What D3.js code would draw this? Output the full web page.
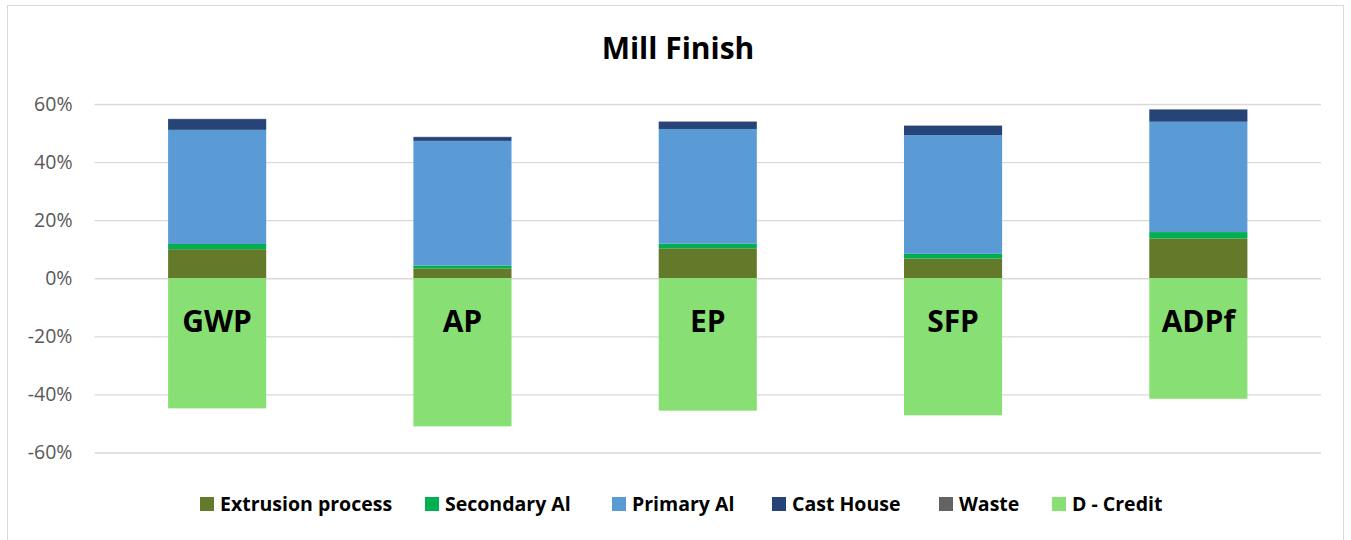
<!DOCTYPE html>
<html>
<head>
<meta charset="utf-8">
<script src="https://cdn.jsdelivr.net/npm/d3@7"></script>
<style>
  body { margin: 0; background: #fff; }
  svg { font-family: "Open Sans", Lato, sans-serif; }
</style>
</head>
<body>
<div id="chart"></div>
<script>
// data (percent)
var categories = ["GWP", "AP", "EP", "SFP", "ADPf"];
var seriesNames = ["Extrusion process", "Secondary Al", "Primary Al", "Cast House", "Waste", "D - Credit"];
var seriesColors = ["#637a2b", "#00b050", "#5b9bd5", "#264478", "#636363", "#88e074"];
var extrusion = [10.0, 3.4, 10.3, 6.8, 13.7];
var secondary = [1.8, 1.0, 1.6, 1.6, 2.2];
var primary   = [39.3, 42.9, 39.5, 40.9, 38.0];
var castHouse = [3.7, 1.3, 2.5, 3.2, 4.2];
var waste     = [0.1, 0.1, 0.1, 0.1, 0.1];
var credit    = [-44.8, -51.0, -45.6, -47.2, -41.5];
var yTicks = [-60, -40, -20, 0, 20, 40, 60];

var W = 1351, H = 540;
var margin = {top: 104, right: 30, bottom: 87, left: 94.5};

var svg = d3.select("#chart").append("svg")
    .attr("width", W)
    .attr("height", H);

// chart frame
svg.append("rect")
    .attr("x", 7.5).attr("y", 5.5)
    .attr("width", 1336).attr("height", 540)
    .attr("fill", "none")
    .attr("stroke", "#d9d9d9");

var x = d3.scaleBand()
    .domain(categories)
    .range([margin.left, W - margin.right])
    .padding(0);

var y = d3.scaleLinear()
    .domain([-60, 60])
    .range([H - margin.bottom - 0.5, margin.top]);

// gridlines + labels
var yaxis = d3.axisLeft(y)
    .tickValues(yTicks)
    .tickSize(-(W - margin.right - margin.left))
    .tickPadding(22)
    .tickFormat(function(d) { return d + "%"; });

var gy = svg.append("g")
    .attr("transform", "translate(" + margin.left + ",0)")
    .call(yaxis);
gy.select(".domain").remove();
gy.selectAll(".tick line").attr("stroke", "#d9d9d9").attr("stroke-width", 1.3);
gy.selectAll(".tick text")
    .attr("fill", "#595959")
    .attr("font-size", "19.5px")
    .attr("font-family", "'Open Sans', sans-serif");

// stacked data
var rows = categories.map(function(c, i) {
  return {
    cat: c,
    "Extrusion process": extrusion[i],
    "Secondary Al": secondary[i],
    "Primary Al": primary[i],
    "Cast House": castHouse[i],
    "Waste": waste[i],
    "D - Credit": credit[i]
  };
});

var stack = d3.stack()
    .keys(seriesNames)
    .offset(d3.stackOffsetDiverging);
var layers = stack(rows);

var barW = x.bandwidth() * 0.4;

svg.append("g").selectAll("g")
    .data(layers)
  .enter().append("g")
    .attr("fill", function(d, i) { return seriesColors[i]; })
  .selectAll("rect")
    .data(function(d) { return d; })
  .enter().append("rect")
    .attr("x", function(d) { return x(d.data.cat) + (x.bandwidth() - barW) / 2; })
    .attr("width", barW)
    .attr("y", function(d) { return y(Math.max(d[0], d[1])); })
    .attr("height", function(d) { return Math.abs(y(d[0]) - y(d[1])); });

// category labels inside the credit bars
svg.append("g").selectAll("text")
    .data(categories)
  .enter().append("text")
    .attr("x", function(d) { return x(d) + x.bandwidth() / 2; })
    .attr("y", y(-18.6))
    .attr("text-anchor", "middle")
    .attr("font-size", "30px")
    .attr("font-weight", "bold")
    .attr("fill", "#000")
    .text(function(d) { return d; });

// title
svg.append("text")
    .attr("x", 678).attr("y", 59)
    .attr("text-anchor", "middle")
    .attr("font-size", "30px")
    .attr("font-weight", "bold")
    .attr("fill", "#000")
    .text("Mill Finish");

// legend
var legendX = [200, 425, 612, 772, 939, 1052];
var legend = svg.append("g").selectAll("g")
    .data(seriesNames)
  .enter().append("g")
    .attr("transform", function(d, i) { return "translate(" + legendX[i] + ",497)"; });
legend.append("rect")
    .attr("width", 14).attr("height", 14)
    .attr("fill", function(d, i) { return seriesColors[i]; });
legend.append("text")
    .attr("x", 20).attr("y", 14)
    .attr("font-size", "19.5px")
    .attr("font-weight", "bold")
    .attr("fill", "#000")
    .text(function(d) { return d; });
</script>
</body>
</html>
